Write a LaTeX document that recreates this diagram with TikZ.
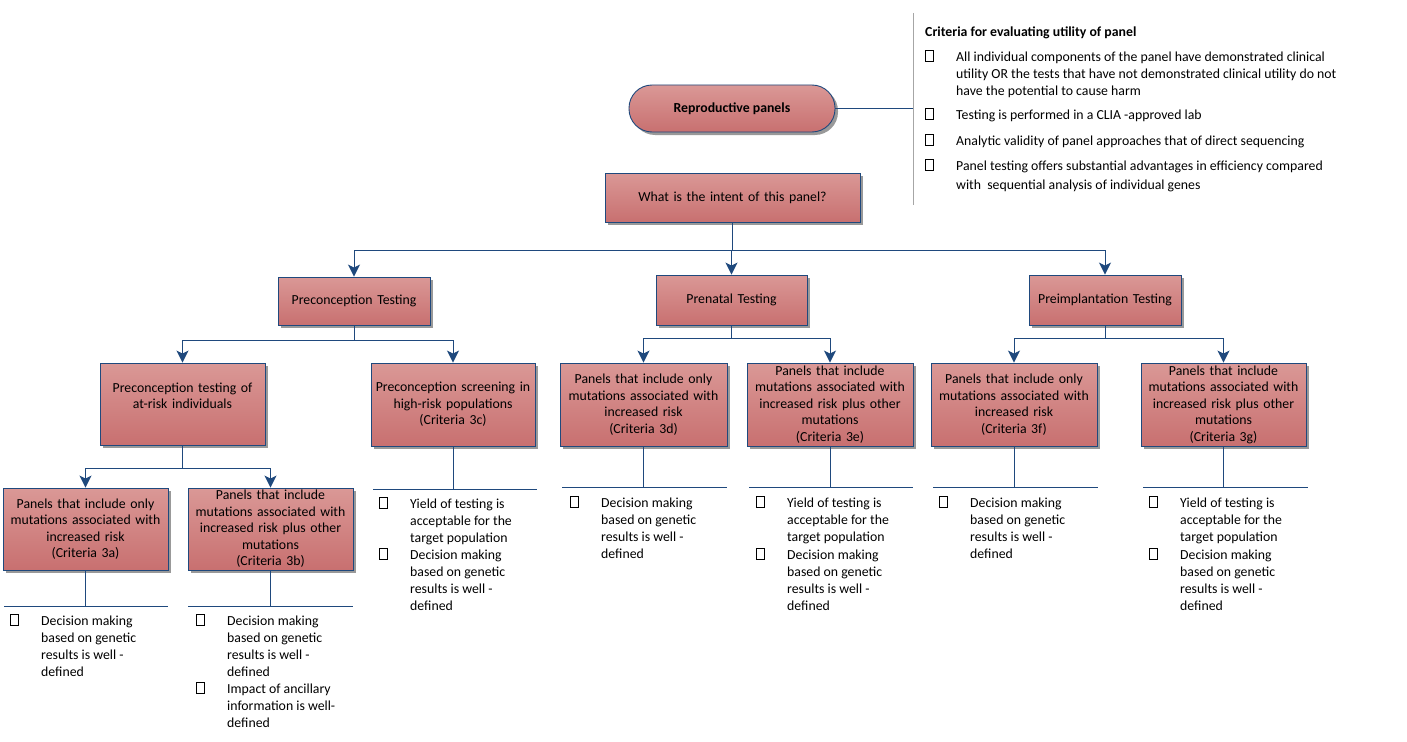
\documentclass[tikz,border=0pt]{standalone}
\usepackage{fontspec}
\setmainfont{Carlito}
\usetikzlibrary{arrows.meta,shadows,calc}
\definecolor{bord}{RGB}{31,73,125}
\definecolor{ptop}{RGB}{218,152,150}
\definecolor{pbot}{RGB}{200,112,112}
\newcommand{\boxfont}{\fontsize{13.8}{16.5}\selectfont}
\newcommand{\listfont}{\fontsize{13.8}{17}\selectfont}
\tikzset{
 box/.style={draw=bord, line width=0.9pt, top color=ptop, bottom color=pbot,
   drop shadow={shadow xshift=3pt,shadow yshift=-3pt,fill=black!40,opacity=1},
   align=center, inner sep=1pt, font=\boxfont},
 conn/.style={draw=bord, line width=1pt},
 arr/.style={conn, -{Stealth[length=12pt,width=12pt,inset=3pt]}},
 chk/.style={draw=black, line width=0.6pt, minimum width=8pt, minimum height=11pt, inner sep=0pt},
 crit/.style={anchor=north west, align=left, inner sep=0pt, font=\listfont},
}
\newcommand{\critem}[4]{%
 \node[chk] (#1c) at (#2-27, #3) {};
 \node[crit] (#1t) at (#2, #3-4) {#4};
}
\newcommand{\bx}[6]{% name, cx, cy, w, h, text
 \node[box, minimum width=#4pt, minimum height=#5pt, text width=#4pt-4pt] (#1) at (#2,#3) {#6};
}
\begin{document}
\begin{tikzpicture}[x=1pt,y=-1pt]
\useasboundingbox (0,0) rectangle (1407,741);

% top panel
\node[box, rounded corners=23pt, minimum width=206pt, minimum height=47pt, font=\boxfont\bfseries] (pill) at (732,108.5) {Reproductive panels};
\coordinate (vtop) at (913,13);
\coordinate (vbot) at (913,205);
\draw[gray!70, line width=0.8pt] (vtop) -- (vbot);
\draw[conn] (pill.east) -- (pill.east -| vtop);

\node[anchor=west, inner sep=0pt, font=\listfont\bfseries] (head) at (925,33) {Criteria for evaluating utility of panel};
\critem{t1}{956}{56}{All individual components of the panel have demonstrated clinical\\utility OR the tests that have not demonstrated clinical utility do not\\have the potential to cause harm}
\critem{t2}{956}{114}{Testing is performed in a CLIA -approved lab}
\critem{t3}{956}{140}{Analytic validity of panel approaches that of direct sequencing}
\node[chk] (t4c) at (929,165) {};
\node[crit, font=\fontsize{13.8}{19}\selectfont] (t4t) at (956,161) {Panel testing offers substantial advantages in efficiency compared\\with\ \ sequential analysis of individual genes};

% boxes
\bx{intent}{732.5}{197.5}{255}{49}{What is the intent of this panel?}
\bx{pc}{354}{301}{152}{48}{Preconception Testing}
\bx{pn}{731.5}{300}{151}{50}{Prenatal Testing}
\bx{pi}{1105}{300}{152}{50}{Preimplantation Testing}
\bx{ar}{182.5}{404}{165}{82}{Preconception testing of\\at-risk individuals\\\mbox{}}
\bx{sc}{453}{404.5}{164}{83}{Preconception screening in\\high-risk populations\\(Criteria 3c)}
\bx{bd}{643.5}{404.5}{167}{83}{Panels that include only\\mutations associated with\\increased risk\\(Criteria 3d)}
\bx{be}{830}{404.5}{166}{83}{Panels that include\\mutations associated with\\increased risk plus other\\mutations\\(Criteria 3e)}
\bx{bf}{1014}{404.5}{166}{83}{Panels that include only\\mutations associated with\\increased risk\\(Criteria 3f)}
\bx{bg}{1223.5}{404.5}{165}{83}{Panels that include\\mutations associated with\\increased risk plus other\\mutations\\(Criteria 3g)}
\bx{ba}{85.5}{529}{165}{82}{Panels that include only\\mutations associated with\\increased risk\\(Criteria 3a)}
\bx{bb}{270.5}{529}{165}{82}{Panels that include\\mutations associated with\\increased risk plus other\\mutations\\(Criteria 3b)}

% connectors
\coordinate (h1) at (0,250);
\coordinate (h2) at (0,340);
\coordinate (h3) at (0,338);
\coordinate (h4) at (0,468);
\foreach \c in {pc,pn,pi} \draw[arr] (intent.south) -- (intent.south |- h1) -| (\c.north);
\foreach \c in {ar,sc} \draw[arr] (pc.south) -- (pc.south |- h2) -| (\c.north);
\foreach \c in {bd,be} \draw[arr] (pn.south) -- (pn.south |- h3) -| (\c.north);
\foreach \c in {bf,bg} \draw[arr] (pi.south) -- (pi.south |- h3) -| (\c.north);
\foreach \c in {ba,bb} \draw[arr] (ar.south) -- (ar.south |- h4) -| (\c.north);

% criteria lines
\coordinate (la1) at (4,606);   \coordinate (la2) at (168,606);
\coordinate (lb1) at (188,606); \coordinate (lb2) at (353,606);
\coordinate (lc1) at (373,489); \coordinate (lc2) at (537,489);
\coordinate (ld1) at (562,487); \coordinate (ld2) at (727,487);
\coordinate (le1) at (749,487); \coordinate (le2) at (913,487);
\coordinate (lf1) at (933,487); \coordinate (lf2) at (1098,487);
\coordinate (lg1) at (1143,487); \coordinate (lg2) at (1308,487);
\draw[conn] (ba.south) -- (ba.south |- la1);  \draw[conn] (la1) -- (la2);
\draw[conn] (bb.south) -- (bb.south |- lb1);  \draw[conn] (lb1) -- (lb2);
\draw[conn] (sc.south) -- (sc.south |- lc1);  \draw[conn] (lc1) -- (lc2);
\draw[conn] (bd.south) -- (bd.south |- ld1);  \draw[conn] (ld1) -- (ld2);
\draw[conn] (be.south) -- (be.south |- le1);  \draw[conn] (le1) -- (le2);
\draw[conn] (bf.south) -- (bf.south |- lf1);  \draw[conn] (lf1) -- (lf2);
\draw[conn] (bg.south) -- (bg.south |- lg1);  \draw[conn] (lg1) -- (lg2);

% criteria items
\critem{a1}{41}{620}{Decision making\\based on genetic\\results is well -\\defined}
\critem{b1}{227}{620}{Decision making\\based on genetic\\results is well -\\defined}
\critem{b2}{227}{688}{Impact of ancillary\\information is well-\\defined}
\critem{c1}{410}{503}{Yield of testing is\\acceptable for the\\target population}
\critem{c2}{410}{554}{Decision making\\based on genetic\\results is well -\\defined}
\critem{d1}{601}{502}{Decision making\\based on genetic\\results is well -\\defined}
\critem{e1}{787}{502}{Yield of testing is\\acceptable for the\\target population}
\critem{e2}{787}{554}{Decision making\\based on genetic\\results is well -\\defined}
\critem{f1}{970}{502}{Decision making\\based on genetic\\results is well -\\defined}
\critem{g1}{1180}{502}{Yield of testing is\\acceptable for the\\target population}
\critem{g2}{1180}{554}{Decision making\\based on genetic\\results is well -\\defined}
\end{tikzpicture}
\end{document}
